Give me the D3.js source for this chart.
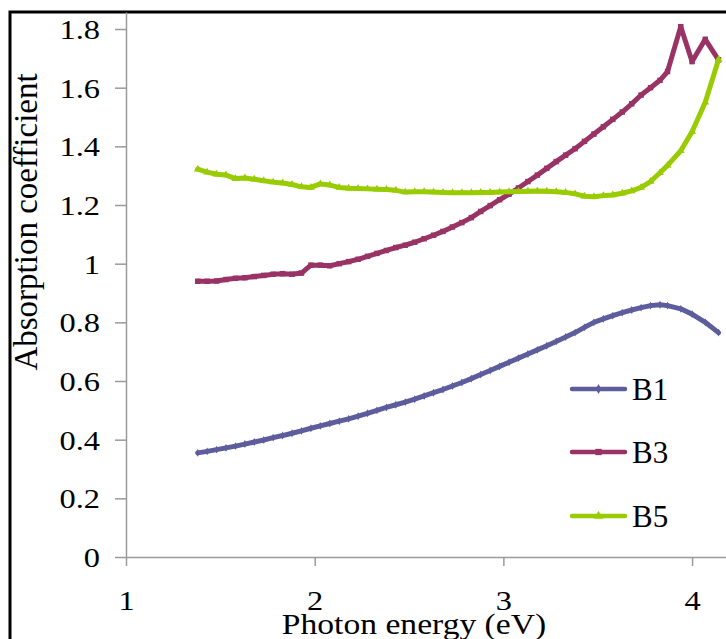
<!DOCTYPE html>
<html><head><meta charset="utf-8">
<script src="https://cdn.jsdelivr.net/npm/d3@7"></script>
<style>body{margin:0;background:#fff}svg{display:block}text{font-family:"Liberation Serif","Times New Roman",serif;fill:#000}</style>
</head><body>
<script>
const energy = [1.38,1.43,1.48,1.53,1.58,1.63,1.68,1.73,1.78,1.83,1.88,1.93,1.98,2.03,2.08,2.13,2.18,2.23,2.28,2.33,2.38,2.43,2.48,2.53,2.58,2.63,2.68,2.73,2.78,2.83,2.88,2.93,2.98,3.03,3.08,3.13,3.18,3.23,3.28,3.33,3.38,3.43,3.48,3.53,3.58,3.63,3.68,3.73,3.78,3.83,3.87,3.94,4.00,4.07,4.14];
const B1 = [0.355,0.360,0.366,0.372,0.378,0.385,0.392,0.399,0.407,0.414,0.422,0.430,0.439,0.447,0.455,0.463,0.471,0.480,0.490,0.500,0.510,0.519,0.528,0.538,0.549,0.560,0.571,0.583,0.595,0.608,0.622,0.636,0.650,0.664,0.678,0.692,0.706,0.720,0.735,0.750,0.765,0.783,0.800,0.812,0.823,0.833,0.842,0.850,0.857,0.860,0.857,0.846,0.828,0.800,0.765];
const B3 = [0.940,0.940,0.941,0.946,0.950,0.952,0.956,0.960,0.964,0.966,0.964,0.968,0.995,0.995,0.993,1.000,1.007,1.015,1.025,1.035,1.045,1.055,1.063,1.073,1.085,1.097,1.110,1.125,1.140,1.157,1.178,1.198,1.218,1.237,1.258,1.280,1.302,1.325,1.348,1.370,1.392,1.417,1.442,1.467,1.492,1.517,1.545,1.575,1.600,1.625,1.655,1.808,1.689,1.765,1.695];
const B5 = [1.322,1.312,1.305,1.302,1.290,1.292,1.288,1.283,1.278,1.275,1.270,1.262,1.260,1.272,1.268,1.260,1.257,1.256,1.255,1.254,1.253,1.250,1.244,1.245,1.245,1.244,1.243,1.242,1.242,1.242,1.243,1.243,1.244,1.245,1.246,1.247,1.248,1.247,1.245,1.243,1.238,1.230,1.228,1.232,1.234,1.240,1.248,1.260,1.280,1.310,1.335,1.385,1.450,1.550,1.695];
const seriesNames = ["B1","B3","B5"];
const seriesValues = [B1,B3,B5];
const seriesColors = ["#5d5d9e","#993366","#99cc00"];
const xTicks = [1,2,3,4];
const yTicks = [0,0.2,0.4,0.6,0.8,1,1.2,1.4,1.6,1.8];

const W=726,H=639;
const svg=d3.select("body").append("svg").attr("width",W).attr("height",H);
const x=d3.scaleLinear().domain([1,4.2]).range([126,729.8]);
const y=d3.scaleLinear().domain([0,1.858]).range([557,12]);

// frame
svg.append("rect").attr("x",10).attr("y",12).attr("width",W+20).attr("height",H+20)
  .attr("fill","none").attr("stroke","#000").attr("stroke-width",3);

const axisCol="#9a9a9a";
const gy=svg.append("g").attr("transform","translate(126,0)")
  .call(d3.axisLeft(y).tickValues(yTicks).tickSize(11).tickFormat(d3.format("")).tickSizeOuter(0));
const gx=svg.append("g").attr("transform","translate(0,557)")
  .call(d3.axisBottom(x).tickValues(xTicks).tickSize(9).tickFormat(d3.format("d")).tickSizeOuter(0));
[gx,gy].forEach(g=>{
  g.select(".domain").attr("stroke",axisCol).attr("stroke-width",1.5);
  g.selectAll(".tick line").attr("stroke",axisCol).attr("stroke-width",1.5);
  g.selectAll("text").attr("font-size",27).attr("fill","#000");
});
gy.selectAll(".tick text").attr("x",0).attr("dy",null)
  .attr("dominant-baseline","central")
  .attr("transform","translate(-26,0) scale(1.2,1)").attr("text-anchor","end");
gx.selectAll(".tick text").attr("y",0).attr("dy",null)
  .attr("transform","translate(0,53) scale(1.2,1)");

// axis titles
svg.append("text").attr("transform","translate(414,634) scale(1.12,1)").attr("text-anchor","middle")
  .attr("font-size",30).text("Photon energy (eV)");
svg.append("text").attr("transform","translate(37,222) rotate(-90)").attr("text-anchor","middle")
  .attr("font-size",33).text("Absorption coefficient");

const symTypes=[d3.symbolDiamond,d3.symbolSquare,d3.symbolTriangle];
const symSizes=[18,30,26];
const line=d3.line().x((d,i)=>x(energy[i])).y(d=>y(d));
seriesValues.forEach((vals,k)=>{
  const g=svg.append("g");
  g.append("path").attr("d",line(vals)).attr("fill","none").attr("stroke",seriesColors[k])
    .attr("stroke-width",5).attr("stroke-linejoin","round").attr("stroke-linecap","round");
  g.selectAll("path.m").data(vals).join("path").attr("class","m")
    .attr("transform",(d,i)=>`translate(${x(energy[i])},${y(d)})`)
    .attr("d",d3.symbol(symTypes[k],symSizes[k])).attr("fill",seriesColors[k]);
});

// legend
const legY=[389,452,516];
seriesNames.forEach((n,k)=>{
  const g=svg.append("g").attr("transform",`translate(0,${legY[k]})`);
  g.append("line").attr("x1",572).attr("x2",625).attr("y1",0).attr("y2",0)
    .attr("stroke",seriesColors[k]).attr("stroke-width",4.5).attr("stroke-linecap","round");
  g.append("path").attr("transform","translate(598.5,0)").attr("d",d3.symbol(symTypes[k],symSizes[k]+10)).attr("fill",seriesColors[k]);
  g.append("text").attr("x",632).attr("dy","0.35em").attr("font-size",31).text(n);
});
</script>
</body></html>
